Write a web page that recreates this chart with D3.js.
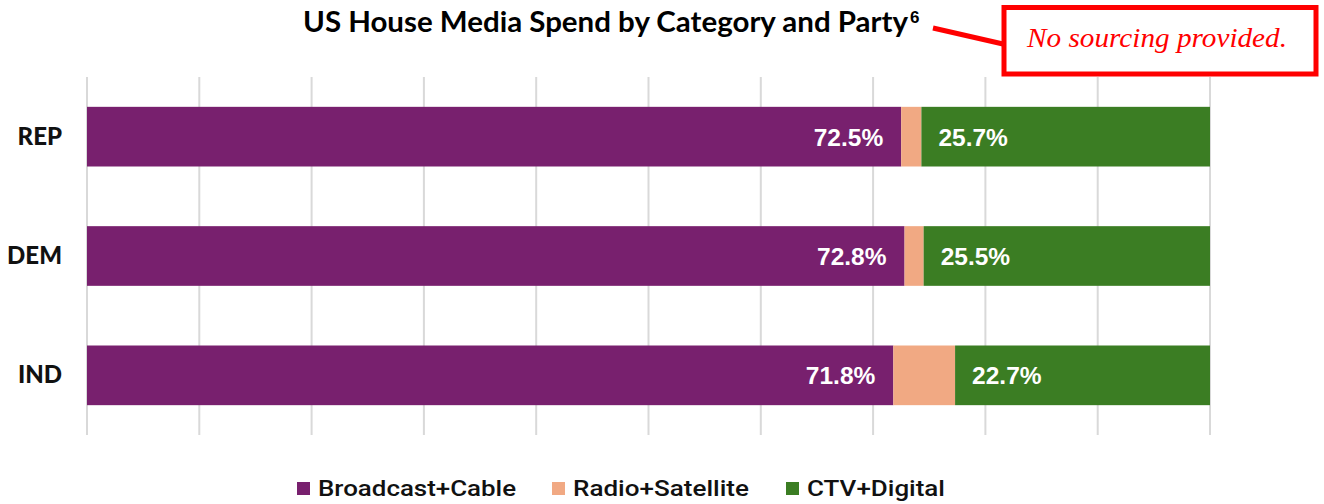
<!DOCTYPE html>
<html>
<head>
<meta charset="utf-8">
<script src="https://cdn.jsdelivr.net/npm/d3@7"></script>
<style>
  html, body { margin: 0; padding: 0; background: #fff; }
  svg { display: block; }
</style>
</head>
<body>
<svg id="chart" width="1324" height="504"></svg>
<script>
// Parties shown as rows, top to bottom
const parties = ["REP", "DEM", "IND"];
// Share of media spend by category (percent)
const broadcastCable = [72.5, 72.8, 71.8];
const radioSatellite = [1.8, 1.7, 5.5];
const ctvDigital = [25.7, 25.5, 22.7];
// Category names and colours
const categories = ["Broadcast+Cable", "Radio+Satellite", "CTV+Digital"];
const categoryColors = ["#78206E", "#F1A983", "#3B7D23"];
// Gridline positions along the percent axis
const gridTicks = [0, 10, 20, 30, 40, 50, 60, 70, 80, 90, 100];

const rows = parties.map((p, i) => ({
  party: p,
  "Broadcast+Cable": broadcastCable[i],
  "Radio+Satellite": radioSatellite[i],
  "CTV+Digital": ctvDigital[i]
}));

const svg = d3.select("#chart");

const x = d3.scaleLinear().domain([0, 100]).range([87, 1210]);
const y = d3.scaleBand().domain(parties).range([77, 435])
  .paddingInner(0.5).paddingOuter(0.25);
const color = d3.scaleOrdinal().domain(categories).range(categoryColors);

// Vertical gridlines
svg.append("g").selectAll("line").data(gridTicks).join("line")
  .attr("x1", d => x(d)).attr("x2", d => x(d))
  .attr("y1", 77).attr("y2", 435)
  .attr("stroke", "#D9D9D9").attr("stroke-width", 2);

// Stacked bars
const stacked = d3.stack().keys(categories)(rows);
const layers = svg.append("g").selectAll("g").data(stacked).join("g")
  .attr("fill", d => color(d.key));
layers.selectAll("rect").data(d => d).join("rect")
  .attr("x", d => x(d[0]))
  .attr("width", d => x(d[1]) - x(d[0]))
  .attr("y", d => y(d.data.party))
  .attr("height", y.bandwidth());

// Value labels: broadcast inside its right end, digital inside its left end
const labelFont = "'Liberation Sans', Arial, sans-serif";
const bc = stacked[0], dg = stacked[2];
svg.append("g").selectAll("text").data(bc).join("text")
  .attr("x", d => x(d[1]) - 18)
  .attr("y", d => y(d.data.party) + y.bandwidth() / 2 + 9)
  .attr("text-anchor", "end")
  .attr("fill", "#fff")
  .attr("font-family", labelFont).attr("font-weight", "bold").attr("font-size", 24.5)
  .text(d => d.data["Broadcast+Cable"].toFixed(1) + "%");
svg.append("g").selectAll("text").data(dg).join("text")
  .attr("x", d => x(d[0]) + 17)
  .attr("y", d => y(d.data.party) + y.bandwidth() / 2 + 9)
  .attr("text-anchor", "start")
  .attr("fill", "#fff")
  .attr("font-family", labelFont).attr("font-weight", "bold").attr("font-size", 24.5)
  .text(d => d.data["CTV+Digital"].toFixed(1) + "%");

// Party labels
svg.append("g").selectAll("text").data(parties).join("text")
  .attr("x", 62)
  .attr("y", d => y(d) + y.bandwidth() / 2 + 8)
  .attr("text-anchor", "end")
  .attr("fill", "#111")
  .attr("font-family", "Lato, 'Open Sans', sans-serif")
  .attr("font-weight", 900).attr("font-size", 24)
  .text(d => d);

// Title with footnote marker
svg.append("text")
  .attr("x", 303).attr("y", 32)
  .attr("font-family", "Lato, 'Open Sans', sans-serif")
  .attr("font-weight", "bold").attr("font-size", 28.5)
  .attr("fill", "#000")
  .attr("textLength", 605).attr("lengthAdjust", "spacingAndGlyphs")
  .text("US House Media Spend by Category and Party");
svg.append("text")
  .attr("x", 910).attr("y", 23)
  .attr("font-family", "'Liberation Sans', Arial, sans-serif")
  .attr("font-weight", "bold").attr("font-size", 17)
  .attr("fill", "#000")
  .text("6");

// Red callout
svg.append("line")
  .attr("x1", 933).attr("y1", 28).attr("x2", 1003).attr("y2", 44)
  .attr("stroke", "#FF0000").attr("stroke-width", 5);
svg.append("rect")
  .attr("x", 1004).attr("y", 7.5).attr("width", 312).attr("height", 66.5)
  .attr("fill", "#fff").attr("stroke", "#FF0000").attr("stroke-width", 5);
svg.append("text")
  .attr("x", 1027).attr("y", 47)
  .attr("font-family", "'Liberation Serif', 'Times New Roman', serif")
  .attr("font-style", "italic").attr("font-size", 27)
  .attr("fill", "#FF0000")
  .attr("textLength", 260).attr("lengthAdjust", "spacingAndGlyphs")
  .text("No sourcing provided.");

// Legend
const legendX = [297, 552, 786];
const legendW = [198, 176, 138];
const legend = svg.append("g").selectAll("g").data(categories).join("g")
  .attr("transform", (d, i) => `translate(${legendX[i]},0)`);
legend.append("rect")
  .attr("x", 0).attr("y", 482).attr("width", 13).attr("height", 13)
  .attr("fill", d => color(d));
legend.append("text")
  .attr("x", 21).attr("y", 496)
  .attr("font-family", "Roboto, 'Noto Sans', sans-serif")
  .attr("font-weight", 500).attr("font-size", 22)
  .attr("fill", "#111")
  .attr("textLength", (d, i) => legendW[i]).attr("lengthAdjust", "spacingAndGlyphs")
  .text(d => d);
</script>
</body>
</html>
